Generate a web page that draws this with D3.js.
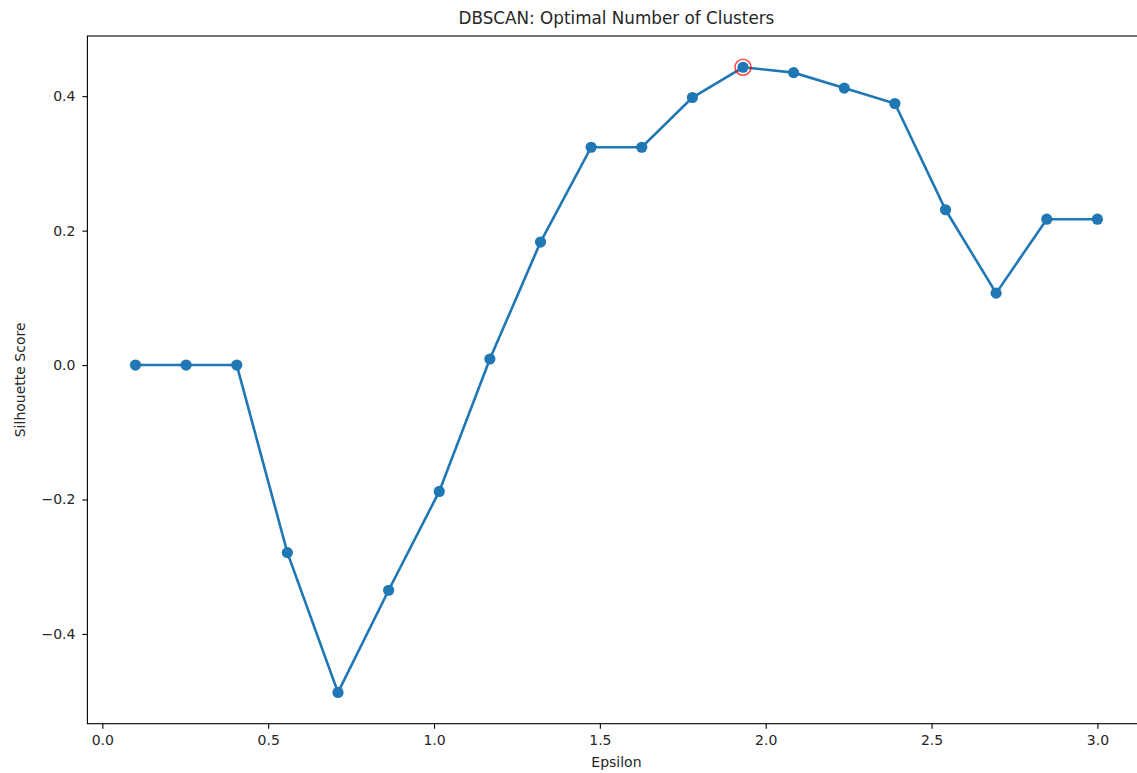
<!DOCTYPE html>
<html>
<head>
<meta charset="utf-8">
<script src="https://cdnjs.cloudflare.com/ajax/libs/d3/7.8.5/d3.min.js"></script>
<style>
  body { margin: 0; background: #fff; }
  text { font-family: 'DejaVu Sans', sans-serif; fill: #262626; }
</style>
</head>
<body>
<div id="chart"></div>
<script>
// epsilon values tried and the silhouette score for each
var epsilons = [0.1, 0.2526, 0.4053, 0.5579, 0.7105, 0.8632, 1.0158, 1.1684, 1.3211, 1.4737,
  1.6263, 1.7789, 1.9316, 2.0842, 2.2368, 2.3895, 2.5421, 2.6947, 2.8474, 3.0]
var scores = [0.0, 0.0, 0.0, -0.279, -0.487, -0.335, -0.188, 0.009, 0.183, 0.324,
  0.324, 0.398, 0.443, 0.435, 0.412, 0.389, 0.231, 0.107, 0.217, 0.217]
var xTicks = [0.0, 0.5, 1.0, 1.5, 2.0, 2.5, 3.0]
var yTicks = [-0.4, -0.2, 0.0, 0.2, 0.4]

var width = 1137
var height = 773
var plotLeft = 87.4
var plotRight = 1145.5
var plotTop = 36
var plotBottom = 723.7

var points = epsilons.map(function (e, i) { return [e, scores[i]] })

// matplotlib style 5% padding around the data
function padded (arr) {
  var lo = d3.min(arr)
  var hi = d3.max(arr)
  var pad = (hi - lo) * 0.05
  return [lo - pad, hi + pad]
}

var x = d3.scaleLinear().domain(padded(epsilons)).range([plotLeft, plotRight])
var y = d3.scaleLinear().domain(padded(scores)).range([plotBottom, plotTop])

var svg = d3.select('#chart')
  .append('svg')
  .attr('width', width)
  .attr('height', height)

var fmt = d3.format('.1f')

// axes
svg.append('g')
  .attr('transform', 'translate(0,' + plotBottom + ')')
  .call(d3.axisBottom(x).tickValues(xTicks).tickFormat(fmt).tickSize(5).tickPadding(6).tickSizeOuter(0))
svg.append('g')
  .attr('transform', 'translate(' + plotLeft + ',0)')
  .call(d3.axisLeft(y).tickValues(yTicks).tickFormat(fmt).tickSize(5).tickPadding(7).tickSizeOuter(0))

svg.selectAll('.domain').remove()
svg.selectAll('.tick line').attr('stroke', '#000').attr('stroke-width', 1.1)
svg.selectAll('.tick text')
  .style('font-family', 'DejaVu Sans')
  .style('font-size', '14px')
  .attr('fill', '#262626')

// frame around plot area
svg.append('rect')
  .attr('x', plotLeft)
  .attr('y', plotTop)
  .attr('width', plotRight - plotLeft)
  .attr('height', plotBottom - plotTop)
  .attr('fill', 'none')
  .attr('stroke', '#000')
  .attr('stroke-width', 1.1)

// line
var line = d3.line()
  .x(function (d) { return x(d[0]) })
  .y(function (d) { return y(d[1]) })

svg.append('path')
  .datum(points)
  .attr('d', line)
  .attr('fill', 'none')
  .attr('stroke', '#1f77b4')
  .attr('stroke-width', 2.6)

// highlight the best epsilon
var best = d3.maxIndex(scores)
svg.append('circle')
  .attr('cx', x(epsilons[best]))
  .attr('cy', y(scores[best]))
  .attr('r', 8)
  .attr('fill', 'none')
  .attr('stroke', 'red')
  .attr('stroke-opacity', 0.7)
  .attr('stroke-width', 1.6)

// markers
svg.selectAll('.dot')
  .data(points)
  .enter()
  .append('circle')
  .attr('class', 'dot')
  .attr('cx', function (d) { return x(d[0]) })
  .attr('cy', function (d) { return y(d[1]) })
  .attr('r', 5.6)
  .attr('fill', '#1f77b4')

// title and labels
svg.append('text')
  .attr('x', (plotLeft + plotRight) / 2)
  .attr('y', 24)
  .attr('text-anchor', 'middle')
  .style('font-size', '16.8px')
  .text('DBSCAN: Optimal Number of Clusters')

svg.append('text')
  .attr('x', (plotLeft + plotRight) / 2)
  .attr('y', 767)
  .attr('text-anchor', 'middle')
  .style('font-size', '14px')
  .text('Epsilon')

svg.append('text')
  .attr('transform', 'translate(20,' + (plotTop + plotBottom) / 2 + ') rotate(-90)')
  .attr('text-anchor', 'middle')
  .attr('dy', '0.35em')
  .style('font-size', '14px')
  .text('Silhouette Score')
</script>
</body>
</html>
